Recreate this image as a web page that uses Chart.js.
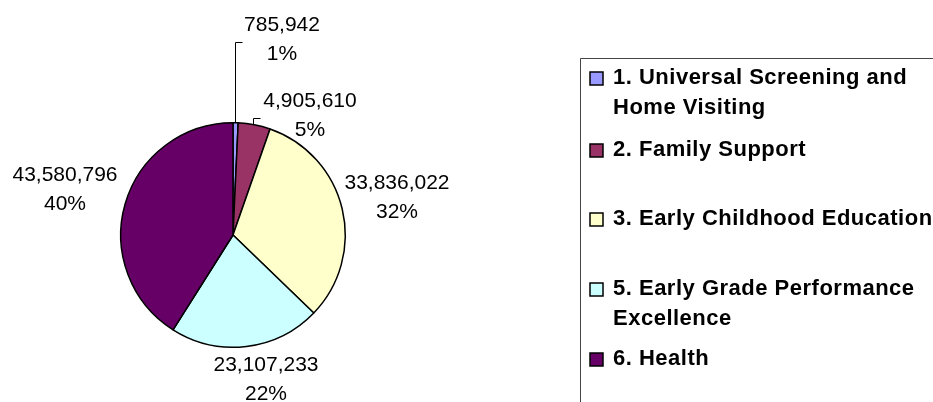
<!DOCTYPE html>
<html>
<head>
<meta charset="utf-8">
<script src="https://cdn.jsdelivr.net/npm/chart.js@4"></script>
<style>
  body { margin: 0; background: #fff; }
  #wrap { width: 933px; height: 402px; position: relative; }
</style>
</head>
<body>
<div id="wrap"><canvas id="pie_chart" width="933" height="402"></canvas></div>
<script>
// DATA
var categories = [
    '1. Universal Screening and Home Visiting',
    '2. Family Support',
    '3. Early Childhood Education',
    '5. Early Grade Performance Excellence',
    '6. Health'
];
var legendLines = [
    ['1. Universal Screening and', 'Home Visiting'],
    ['2. Family Support'],
    ['3. Early Childhood Education'],
    ['5. Early Grade Performance', 'Excellence'],
    ['6. Health']
];
var amounts = [785942, 4905610, 33836022, 23107233, 43580796];
var percents = ['1%', '5%', '32%', '22%', '40%'];
var sliceColors = ['#9999FF', '#993366', '#FFFFCC', '#CCFFFF', '#660066'];

const FONT = '"Liberation Sans", Arial, sans-serif';

function fmt(n) {
    return n.toString().replace(/\B(?=(\d{3})+(?!\d))/g, ",");
}

// label centres, relative to the pie centre
var labelOffsets = [
    { dx: 49, dy: -210 },
    { dx: 77, dy: -134 },
    { dx: 164, dy: -52 },
    { dx: 33, dy: 130 },
    { dx: -168, dy: -60 }
];

const labelPlugin = {
    id: 'pieLabels',
    afterDatasetsDraw(chart) {
        var c = chart.ctx;
        var arcs = chart.getDatasetMeta(0).data;
        var cx = arcs[0].x, cy = arcs[0].y, r = arcs[0].outerRadius;
        c.save();
        c.fillStyle = '#000';
        c.font = '21px ' + FONT;
        c.textAlign = 'center';
        c.textBaseline = 'middle';
        amounts.forEach(function(v, i) {
            var x = cx + labelOffsets[i].dx;
            var y = cy + labelOffsets[i].dy;
            c.fillText(fmt(v), x, y);
            c.fillText(percents[i], x, y + 29);
        });
        // leader lines for the two small slices
        c.strokeStyle = '#000';
        c.lineWidth = 1;
        [0, 1].forEach(function(i) {
            var a = arcs[i];
            var mid = (a.startAngle + a.endAngle) / 2;
            var px = cx + Math.cos(mid) * r;
            var py = cy + Math.sin(mid) * r;
            var topY = i === 0 ? cy - 193 : cy - 117;
            var x0 = Math.round(px) - 0.5;
            c.beginPath();
            c.moveTo(x0, py);
            c.lineTo(x0, topY + 0.5);
            c.lineTo(x0 + 7, topY + 0.5);
            c.stroke();
        });
        c.restore();
    }
};

const legendPlugin = {
    id: 'boxLegend',
    afterDraw(chart) {
        var c = chart.ctx;
        c.save();
        c.strokeStyle = '#444';
        c.lineWidth = 1;
        c.beginPath();
        c.moveTo(580.5, 420);
        c.lineTo(580.5, 58.5);
        c.lineTo(940, 58.5);
        c.stroke();
        var rowY = [78, 150, 219, 289, 359];
        c.font = 'bold 22px ' + FONT;
        c.letterSpacing = '0.5px';
        c.textBaseline = 'middle';
        c.textAlign = 'left';
        legendLines.forEach(function(lines, i) {
            c.fillStyle = sliceColors[i];
            c.fillRect(590, rowY[i] - 6, 13, 13);
            c.strokeStyle = '#000';
            c.lineWidth = 1.5;
            c.strokeRect(590, rowY[i] - 6, 13, 13);
            c.fillStyle = '#000';
            lines.forEach(function(t, k) {
                c.fillText(t, 613, rowY[i] + k * 30);
            });
        });
        c.restore();
    }
};

var ctx = document.getElementById('pie_chart').getContext('2d');
var myChart = new Chart(ctx, {
    type: 'pie',
    data: {
        labels: categories,
        datasets: [{
            data: amounts,
            backgroundColor: sliceColors,
            borderColor: '#000',
            borderWidth: 1.5,
        }]
    },
    options: {
        responsive: false,
        animation: false,
        layout: {
            padding: { left: 120, right: 587, top: 122, bottom: 54 },
        },
        plugins: {
            legend: { display: false },
            tooltip: { enabled: false },
        },
    },
    plugins: [labelPlugin, legendPlugin],
});
</script>
</body>
</html>
